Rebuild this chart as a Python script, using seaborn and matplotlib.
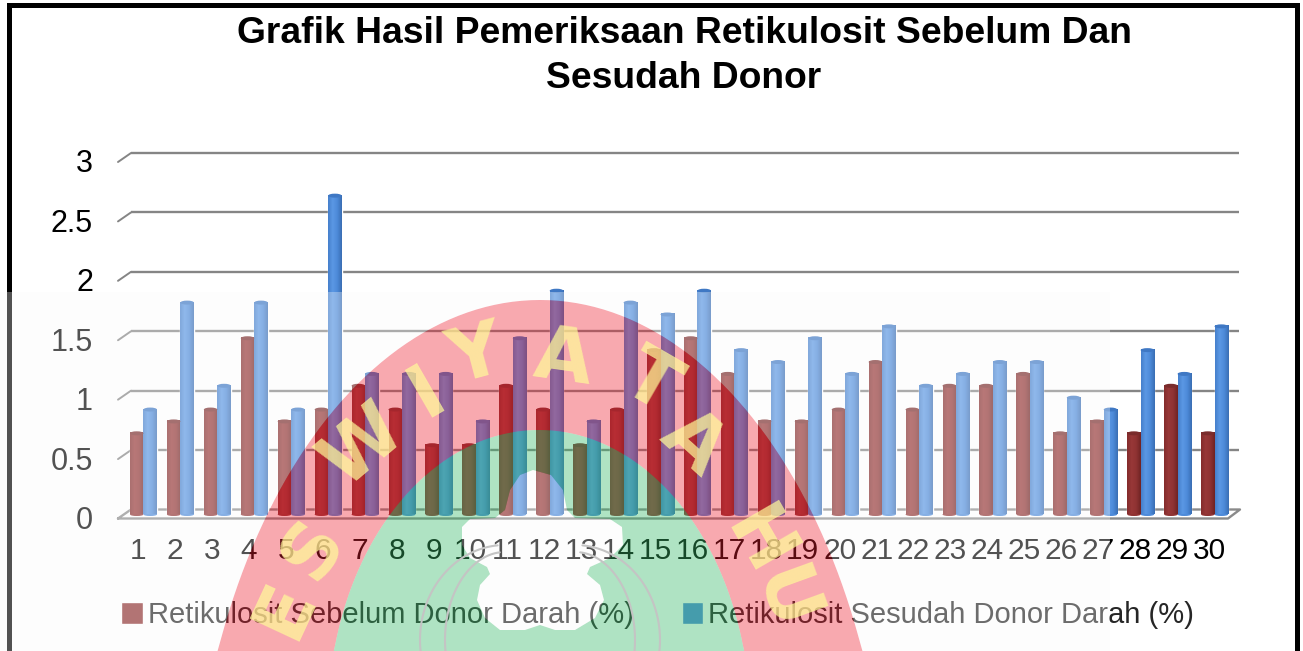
import numpy as np
import pandas as pd
import matplotlib.pyplot as plt
import seaborn as sns
from matplotlib.patches import Ellipse, PathPatch, Rectangle
from matplotlib.path import Path
from matplotlib.lines import Line2D
from matplotlib.transforms import Affine2D, ScaledTranslation
from matplotlib.colors import LinearSegmentedColormap

# data
donor = [str(i) for i in range(1, 31)]
sebelum = [0.7, 0.8, 0.9, 1.5, 0.8, 0.9, 1.1, 0.9, 0.6, 0.6, 1.1, 0.9, 0.6, 0.9, 1.4,
           1.5, 1.2, 0.8, 0.8, 0.9, 1.3, 0.9, 1.1, 1.1, 1.2, 0.7, 0.8, 0.7, 1.1, 0.7]
sesudah = [0.9, 1.8, 1.1, 1.8, 0.9, 2.7, 1.2, 1.2, 1.2, 0.8, 1.5, 1.9, 0.8, 1.8, 1.7,
           1.9, 1.4, 1.3, 1.5, 1.2, 1.6, 1.1, 1.2, 1.3, 1.3, 1.0, 0.9, 1.4, 1.2, 1.6]
y_ticks = [0, 0.5, 1, 1.5, 2, 2.5, 3]
y_labels = ['0', '0.5', '1', '1.5', '2', '2.5', '3']
name_a = 'Retikulosit Sebelum Donor Darah (%)'
name_b = 'Retikulosit Sesudah Donor Darah (%)'
title = 'Grafik Hasil Pemeriksaan Retikulosit Sebelum Dan\nSesudah Donor'

W, H = 1303, 651
RED = '#8f3232'
BLUE = '#4d8ad9'

sns.set_theme(style='white')
plt.rcParams['font.family'] = ['Liberation Sans', 'DejaVu Sans']

df = pd.DataFrame({
    'donor': donor * 2,
    'nilai': sebelum + sesudah,
    'seri': [name_a] * 30 + [name_b] * 30,
})

fig = plt.figure(figsize=(W / 100, H / 100), dpi=100, facecolor='white')
ax = fig.add_axes([125 / W, 1 - 514.5 / H, 1108 / W, 356.5 / H])
px = Affine2D().scale(1, -1).translate(0, H)  # picture pixels, y from the top

sns.barplot(data=df, x='donor', y='nilai', hue='seri', palette=[RED, BLUE],
            width=0.73, gap=0, saturation=1, ax=ax, errorbar=None)
ax.set_xlim(-0.5, 29.5)
ax.set_ylim(0, 3)
ax.set_xlabel('')
ax.set_ylabel('')
sns.despine(ax=ax, left=True, bottom=True)

dx = 1108 / 30
dy = 356.5 / 3

# cylinder look on the bars
red_map = LinearSegmentedColormap.from_list('r', ['#842c2c', '#983838', '#8f3232', '#702424'])
blue_map = LinearSegmentedColormap.from_list('b', ['#4680cc', '#5b98e4', '#4d8ad9', '#3a6fb4'])
grad = np.linspace(0, 1, 32).reshape(1, -1)
bars = [p for p in ax.patches if p.get_height() > 0]
for i, p in enumerate(bars):
    cmap = red_map if i < 30 else blue_map
    cap = '#7a2c2c' if i < 30 else '#3f78c4'
    x0, w, h = p.get_x(), p.get_width(), p.get_height()
    top = h - 2 / dy
    p.set_height(top)
    p.set_zorder(2)
    ax.imshow(grad, extent=(x0, x0 + w, 0, top), aspect='auto', cmap=cmap, zorder=2.1)
    ax.add_patch(Ellipse((x0 + w / 2, top), w, 4 / dy, fc=cap, ec='none', zorder=2.2))
    ax.add_patch(Ellipse((x0 + w / 2, 0), w, 3 / dy, fc=RED if i < 30 else BLUE, ec='none',
                         zorder=2, clip_on=False))
ax.set_xlim(-0.5, 29.5)
ax.set_ylim(0, 3)

# pseudo 3d walls and floor
grid_col = '#858585'
back = ax.transData + ScaledTranslation(6 / 100, 5 / 100, fig.dpi_scale_trans)
ax.hlines(y_ticks[1:], -0.5, 29.5, color=grid_col, lw=1.7, transform=back, zorder=1, clip_on=False)
for v in y_ticks[1:]:
    ax.plot([-0.5 - 7 / dx, -0.5 + 6 / dx], [v - 4 / dy, v + 5 / dy], color=grid_col, lw=1.4,
            zorder=1, clip_on=False)
fx = [-0.5 - 7 / dx, -0.5 + 6 / dx, 29.5 + 7 / dx, 29.5 - 5 / dx, -0.5 - 7 / dx]
fy = [-4 / dy, 5 / dy, 5 / dy, -4 / dy, -4 / dy]
ax.plot(fx, fy, color='#8a8a8a', lw=1.7, zorder=1, clip_on=False)

ax.set_yticks(y_ticks, y_labels)
ax.set_xticks(range(30), donor)
ax.tick_params(axis='y', length=0, pad=23, labelsize=22, colors='black')
ax.tick_params(axis='x', length=0, pad=16, labelsize=21.5, colors='black')
label_shift_y = ScaledTranslation(0, -3 / 100, fig.dpi_scale_trans)
label_shift_x = ScaledTranslation(-5.5 / 100, 0, fig.dpi_scale_trans)
for t in ax.get_yticklabels():
    t.set_transform(t.get_transform() + label_shift_y)
for t in ax.get_xticklabels():
    t.set_transform(t.get_transform() + label_shift_x)

sns.move_legend(ax, 'center left', bbox_to_anchor=(95 / W, 1 - 615 / H),
                bbox_transform=fig.transFigure, ncols=2, title=None, frameon=False,
                fontsize=21, handlelength=0.75, handleheight=0.75, handletextpad=0.15,
                columnspacing=1.65)

fig.text(684 / W, 1 - 56 / H, title, ha='center', va='center', fontsize=26.8,
         fontweight='bold', color='black', linespacing=1.38)

# frame of the screenshot
for x, y, w, h in [(7, 3, 5, 648), (7, 3, 1293, 5), (1295, 3, 5, 648)]:
    fig.add_artist(Rectangle((x, y), w, h, fc='black', ec='none', transform=px, zorder=1))


# watermark on top of everything
def ring(pts, ccw=True):
    pts = np.asarray(pts, dtype=float)
    area = np.sum(pts[:, 0] * np.roll(pts[:, 1], -1) - np.roll(pts[:, 0], -1) * pts[:, 1])
    if (area > 0) != ccw:
        pts = pts[::-1]
    return Path(np.vstack([pts, pts[0]]), closed=True)


def arch(cx, cy, rx, ry):
    t = np.linspace(0, 2 * np.pi, 240, endpoint=False)
    return np.column_stack([cx + rx * np.cos(t), np.minimum(cy + ry * np.sin(t), H)])


pink_pts = arch(540, 870, 349, 570)
green_pts = arch(539, 720, 211, 290)
clover_pts = [(533, 470), (551, 475), (563, 490), (567, 510), (575, 518), (610, 519), (622, 527),
              (623, 545), (610, 558), (590, 567), (587, 574), (600, 585), (604, 600), (595, 618),
              (575, 630), (555, 630), (540, 625), (525, 630), (500, 630), (485, 618), (477, 600),
              (480, 585), (490, 574), (487, 567), (470, 558), (462, 545), (462, 527), (470, 519),
              (495, 518), (505, 510), (510, 490), (520, 475)]
veil_pts = [(0, 292), (1110, 292), (1110, H), (0, H)]

veil = Path.make_compound_path(ring(veil_pts), ring(pink_pts, False), ring(clover_pts))
pink = Path.make_compound_path(ring(pink_pts), ring(green_pts, False))
green = Path.make_compound_path(ring(green_pts), ring(clover_pts, False))
fig.add_artist(PathPatch(veil, fc='#fbfbfb', ec='none', alpha=0.33, transform=px, zorder=5))
fig.add_artist(PathPatch(pink, fc=(237 / 255, 29 / 255, 47 / 255), ec='none', alpha=0.38, transform=px, zorder=5))
fig.add_artist(PathPatch(green, fc=(57 / 255, 185 / 255, 105 / 255), ec='none', alpha=0.4, transform=px, zorder=5))

for cx, rx, ry, a, b in [(505, 85, 95, 95, 200), (505, 60, 88, 95, 200),
                         (575, 85, 95, -20, 85), (575, 60, 88, -20, 85)]:
    t = np.radians(np.linspace(a, b, 50))
    fig.add_artist(Line2D(cx + rx * np.cos(t), 640 - ry * np.sin(t), color='#c4c4c4', lw=1.5,
                          transform=px, zorder=5))

letters = ['E', 'S', 'W', 'I', 'Y', 'A', 'T', 'A', 'H', 'U']
let_x = [285, 313, 363, 427, 477, 563, 650, 693, 757, 783]
let_y = [610, 550, 447, 393, 357, 360, 383, 443, 543, 600]
let_rot = [65, 55, 40, 30, 15, -8, -30, -42, -60, -70]
for s, x, y, r in zip(letters, let_x, let_y, let_rot):
    fig.text(x / W, 1 - y / H, s, fontsize=54, fontweight='bold', family='DejaVu Sans',
             color=(1, 0.98, 0.6), alpha=0.72,
             rotation=r, ha='center', va='center', rotation_mode='anchor', zorder=6)

fig.savefig('out.png', dpi=100)
